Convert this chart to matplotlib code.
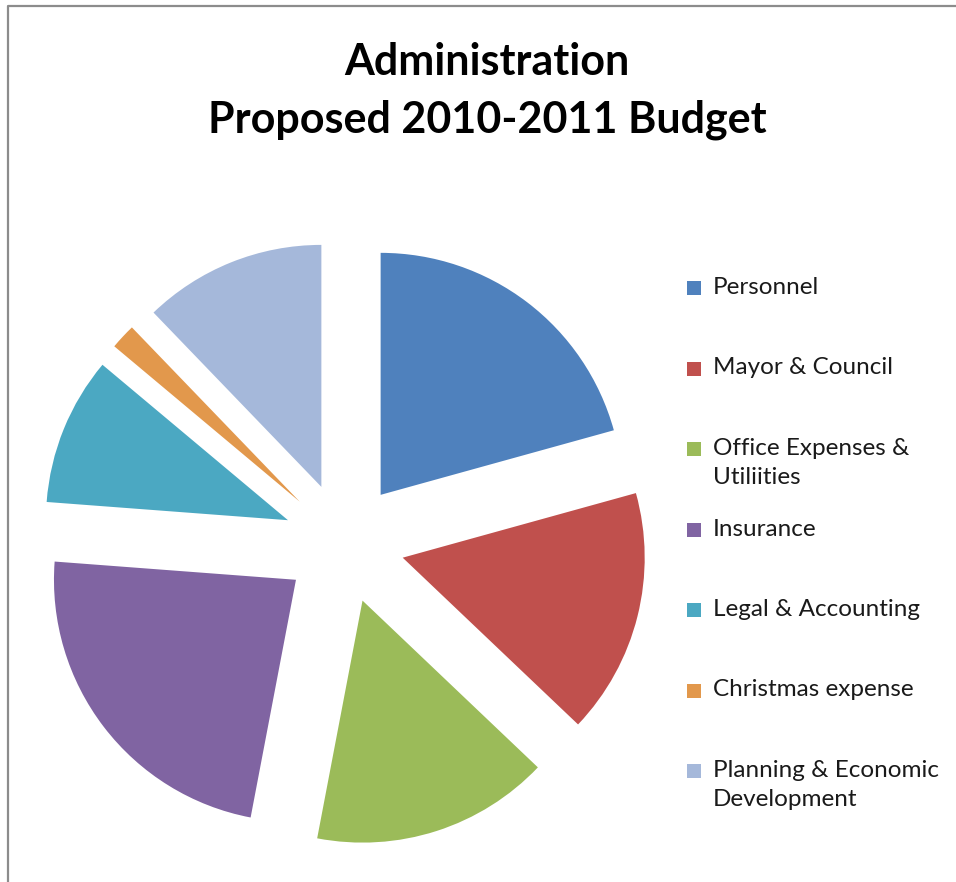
import matplotlib.pyplot as plt
from matplotlib.patches import Rectangle

# budget shares by department (percent of total)
categories = ['Personnel', 'Mayor & Council', 'Office Expenses &\nUtiliities',
              'Insurance', 'Legal & Accounting', 'Christmas expense',
              'Planning & Economic\nDevelopment']
shares = [20.7, 16.4, 15.9, 23.2, 9.9, 1.7, 12.2]
colors = ['#4F81BD', '#C0504D', '#9BBB59', '#8064A2', '#4BA8C2', '#E2984C', '#A5B8DA']

W, H = 956, 882
fig = plt.figure(figsize=(W / 100, H / 100), dpi=100)
ax = fig.add_axes([0, 0, 1, 1])

R = 242
ax.pie(shares, colors=colors, startangle=90, counterclock=False,
       radius=R, center=(344, H - 543), explode=[0.25 * R] * len(shares),
       wedgeprops=dict(linewidth=0))
ax.set_xlim(0, W)
ax.set_ylim(0, H)
ax.set_aspect('equal')
ax.axis('off')

# chart frame (left and top edges)
ax.plot([8, 8, W], [0, H - 6, H - 6], color='#8C8C8C', lw=1.6, solid_capstyle='butt')

fig.text(487 / W, 1 - 91 / H, 'Administration\nProposed 2010-2011 Budget',
         ha='center', va='center', fontsize=31, weight='bold',
         family='Lato', linespacing=1.55)

# legend on the right
for i, (lab, col) in enumerate(zip(categories, colors)):
    yc = H - (288 + i * 80.5)
    ax.add_patch(Rectangle((687, yc - 7), 14, 14, color=col, lw=0))
    ax.text(713, yc + 11, lab, ha='left', va='top', fontsize=17.5,
            family='Lato', color='#1a1a1a', linespacing=1.45)

fig.savefig('out.png', dpi=100)
